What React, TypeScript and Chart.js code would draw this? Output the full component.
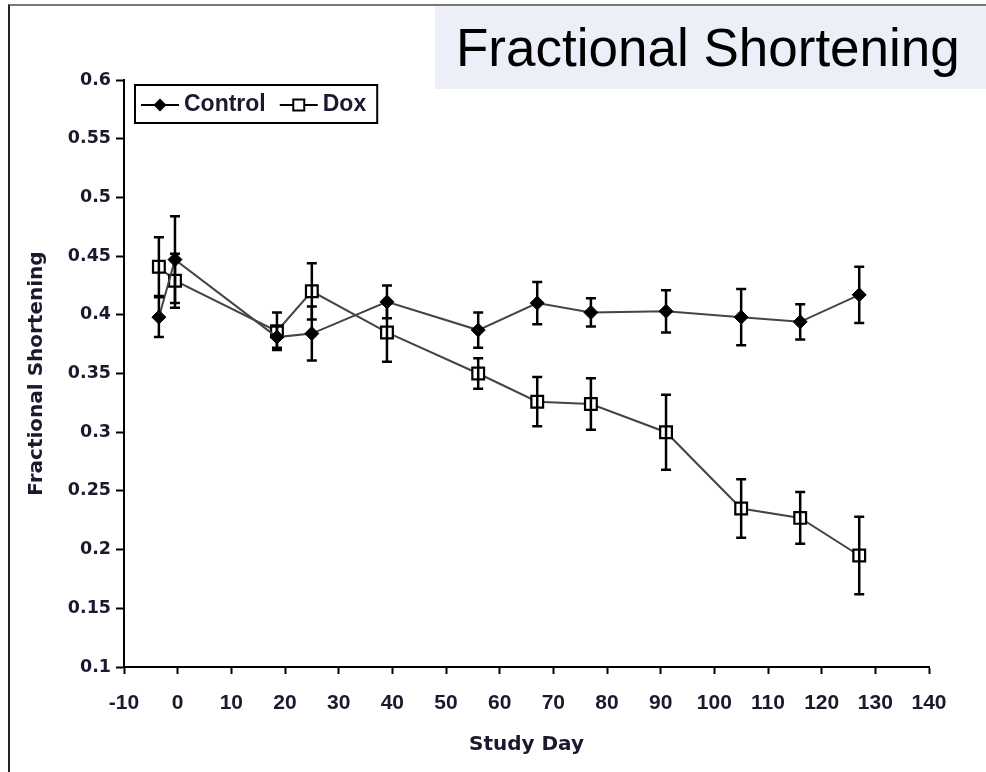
import React, { useEffect, useRef } from 'react';
import { Chart, registerables } from 'chart.js';

Chart.register(...registerables);

// ---- data ----
const studyDays = [-3.5, -0.5, 18.5, 25, 39, 56, 67, 77, 91, 105, 116, 127];
const controlValues = [0.398, 0.447, 0.381, 0.384, 0.411, 0.387, 0.41, 0.402, 0.403, 0.398, 0.394, 0.417];
const controlErrors = [0.017, 0.037, 0.009, 0.023, 0.014, 0.015, 0.018, 0.012, 0.018, 0.024, 0.015, 0.024];
const doxValues = [0.441, 0.429, 0.386, 0.42, 0.385, 0.35, 0.326, 0.324, 0.3, 0.235, 0.227, 0.195];
const doxErrors = [0.025, 0.023, 0.016, 0.024, 0.025, 0.013, 0.021, 0.022, 0.032, 0.025, 0.022, 0.033];
const seriesLabels = ['Control', 'Dox'];
const xTicks = [-10, 0, 10, 20, 30, 40, 50, 60, 70, 80, 90, 100, 110, 120, 130, 140];
const yTicks = [0.1, 0.15, 0.2, 0.25, 0.3, 0.35, 0.4, 0.45, 0.5, 0.55, 0.6];
const chartTitle = 'Fractional Shortening';
const xAxisTitle = 'Study Day';
const yAxisTitle = 'Fractional Shortening';

const TEXT = '#1a1a2e';
const WIDE = '"DejaVu Sans", Verdana, sans-serif';
const NARROW = '"Liberation Sans Narrow", "Arial Narrow", "Liberation Sans", Arial, sans-serif';
const ARIAL = '"Liberation Sans", Arial, Helvetica, sans-serif';

const errorBarPlugin = {
  id: 'errorBars',
  afterDatasetsDraw(chart: any) {
    const ctx = chart.ctx;
    const yScale = chart.scales.y;
    ctx.save();
    ctx.strokeStyle = '#000';
    ctx.lineWidth = 2.5;
    chart.data.datasets.forEach((ds: any, di: number) => {
      const meta = chart.getDatasetMeta(di);
      const errs: number[] = ds.errors || [];
      meta.data.forEach((pt: any, i: number) => {
        const v = ds.data[i].y;
        const e = errs[i] || 0;
        const yt = yScale.getPixelForValue(v + e);
        const yb = yScale.getPixelForValue(v - e);
        const x = pt.x;
        ctx.beginPath();
        ctx.moveTo(x, yt);
        ctx.lineTo(x, yb);
        ctx.moveTo(x - 5, yt);
        ctx.lineTo(x + 5, yt);
        ctx.moveTo(x - 5, yb);
        ctx.lineTo(x + 5, yb);
        ctx.stroke();
      });
    });
    ctx.restore();
  },
};

const boxLegendPlugin = {
  id: 'boxLegend',
  afterDraw(chart: any) {
    const ctx = chart.ctx;
    const area = chart.chartArea;
    const left = area.left + 11;
    const top = area.top + 5;
    const h = 38;
    ctx.save();
    ctx.font = `bold 23px ${ARIAL}`;
    ctx.textBaseline = 'middle';
    const cy = top + h / 2 + 1;
    let x = left + 6;
    chart.data.datasets.forEach((ds: any) => {
      const sample = 38;
      ctx.strokeStyle = '#000';
      ctx.lineWidth = 2;
      ctx.beginPath();
      ctx.moveTo(x, cy);
      ctx.lineTo(x + sample, cy);
      ctx.stroke();
      const mx = x + sample / 2;
      if (ds.pointStyle === 'rectRot') {
        ctx.fillStyle = '#000';
        ctx.beginPath();
        ctx.moveTo(mx - 6.5, cy);
        ctx.lineTo(mx, cy - 6.5);
        ctx.lineTo(mx + 6.5, cy);
        ctx.lineTo(mx, cy + 6.5);
        ctx.closePath();
        ctx.fill();
      } else {
        ctx.fillStyle = '#fff';
        ctx.lineWidth = 2;
        ctx.beginPath();
        ctx.rect(mx - 5.5, cy - 5.5, 11, 11);
        ctx.fill();
        ctx.stroke();
      }
      x += sample + 5;
      ctx.fillStyle = TEXT;
      ctx.textAlign = 'left';
      ctx.fillText(ds.label, x, cy);
      x += ctx.measureText(ds.label).width + 14;
    });
    const w = x - 14 + 11 - left;
    ctx.strokeStyle = '#000';
    ctx.lineWidth = 2;
    ctx.strokeRect(left, top, w, h);
    ctx.restore();
  },
};

export default function App() {
  const ref = useRef<HTMLCanvasElement | null>(null);

  useEffect(() => {
    if (!ref.current) return;
    const chart = new Chart(ref.current, {
      type: 'line',
      data: {
        datasets: [
          {
            label: seriesLabels[0],
            data: studyDays.map((d, i) => ({ x: d, y: controlValues[i] })),
            errors: controlErrors,
            borderColor: '#444',
            borderWidth: 2,
            pointStyle: 'rectRot',
            pointRadius: 7,
            pointBackgroundColor: '#000',
            pointBorderColor: '#000',
            pointBorderWidth: 1,
            fill: false,
            tension: 0,
          } as any,
          {
            label: seriesLabels[1],
            data: studyDays.map((d, i) => ({ x: d, y: doxValues[i] })),
            errors: doxErrors,
            borderColor: '#444',
            borderWidth: 2,
            pointStyle: 'rect',
            pointRadius: 8.3,
            pointBackgroundColor: '#fff',
            pointBorderColor: '#000',
            pointBorderWidth: 2.2,
            fill: false,
            tension: 0,
          } as any,
        ],
      },
      options: {
        responsive: false,
        animation: false,
        devicePixelRatio: 1,
        layout: { padding: { left: 0, top: 80, right: 57, bottom: 0 } },
        plugins: {
          legend: { display: false },
          tooltip: { enabled: false },
          title: { display: false },
        },
        scales: {
          x: {
            type: 'linear',
            min: -10,
            max: 140,
            afterBuildTicks: (scale: any) => {
              scale.ticks = xTicks.map((v) => ({ value: v }));
            },
            afterFit: (scale: any) => {
              scale.height = 105;
            },
            border: { display: true, color: '#000', width: 2 },
            grid: {
              drawOnChartArea: false,
              drawTicks: true,
              tickLength: 7,
              tickColor: '#000',
              tickWidth: 2,
            },
            ticks: {
              autoSkip: false,
              maxRotation: 0,
              minRotation: 0,
              padding: 17,
              color: TEXT,
              font: { family: NARROW, size: 21, weight: 'bold' },
              callback: (v: any) => String(v),
            },
            title: {
              display: true,
              text: xAxisTitle,
              color: TEXT,
              font: { family: WIDE, size: 20, weight: 'bold' },
              padding: { top: 0, bottom: 15 },
            },
          },
          y: {
            type: 'linear',
            min: 0.1,
            max: 0.6,
            afterBuildTicks: (scale: any) => {
              scale.ticks = yTicks.map((v) => ({ value: v }));
            },
            afterFit: (scale: any) => {
              scale.width = 124;
            },
            border: { display: true, color: '#000', width: 2 },
            grid: {
              drawOnChartArea: false,
              drawTicks: true,
              tickLength: 8,
              tickColor: '#000',
              tickWidth: 2,
            },
            ticks: {
              padding: 5,
              color: TEXT,
              font: { family: WIDE, size: 17.5, weight: 'bold' },
              callback: (v: any) => String(Number(Number(v).toFixed(2))),
            },
            title: {
              display: true,
              text: yAxisTitle,
              color: TEXT,
              font: { family: WIDE, size: 20, weight: 'bold' },
              padding: { top: 25, bottom: 0 },
            },
          },
        },
      } as any,
      plugins: [errorBarPlugin, boxLegendPlugin],
    });
    return () => chart.destroy();
  }, []);

  return (
    <div
      style={{
        position: 'fixed',
        left: 0,
        top: 0,
        width: 986,
        height: 772,
        background: '#fff',
        overflow: 'hidden',
      }}
    >
      <div
        style={{
          position: 'absolute',
          left: 8,
          top: 4,
          width: 1000,
          height: 800,
          borderLeft: '2px solid #222',
          borderTop: '2px solid #777',
        }}
      />
      <canvas
        ref={ref}
        width={986}
        height={772}
        style={{ position: 'absolute', left: 0, top: 0, width: 986, height: 772, display: 'block' }}
      />
      <div
        style={{
          position: 'absolute',
          left: 435,
          top: 6,
          width: 551,
          height: 83,
          background: '#eceff8',
          fontFamily: ARIAL,
          fontSize: 53,
          color: '#000',
          lineHeight: '83px',
          paddingLeft: 21,
          boxSizing: 'border-box',
          whiteSpace: 'nowrap',
        }}
      >
        {chartTitle}
      </div>
    </div>
  );
}
